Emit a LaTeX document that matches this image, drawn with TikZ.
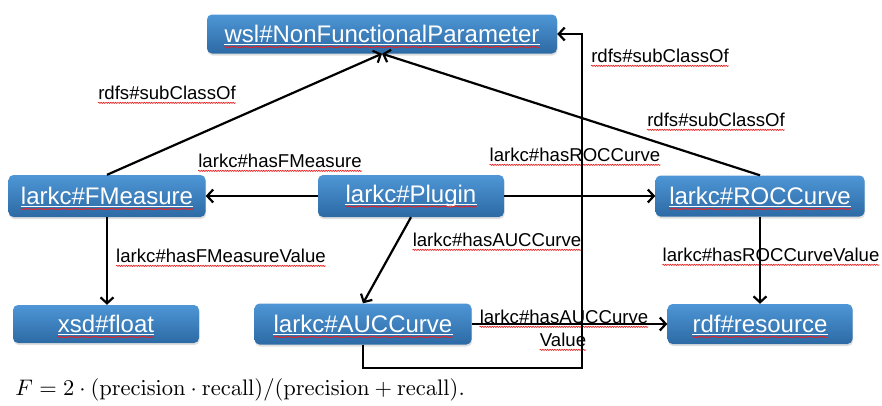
\documentclass[tikz,border=0pt]{standalone}
\usepackage[no-math]{fontspec}
\newfontfamily\arialike{Liberation Sans}
\usetikzlibrary{arrows.meta,shadows,decorations.pathmorphing}
\definecolor{boxtop}{RGB}{78,150,214}
\definecolor{boxbot}{RGB}{44,106,164}
\definecolor{spellred}{RGB}{232,32,32}
\begin{document}
\begin{tikzpicture}[x=1pt,y=-1pt,
  box/.style={rounded corners=5pt, top color=boxtop, bottom color=boxbot, draw=none,
    inner sep=0pt, drop shadow={shadow xshift=0.6pt,shadow yshift=-2pt,opacity=0.25}},
  boxtext/.style={inner sep=0pt, text=white, font=\arialike\fontsize{24}{28}\selectfont},
  lbl/.style={inner sep=0pt, text=black, font=\arialike\fontsize{18.6}{23}\selectfont},
  spell/.style={draw=spellred, line width=0.7pt, decorate,
    decoration={snake, amplitude=0.55pt, segment length=2.4pt}},
  link/.style={draw=black, line width=2.2pt, -{Straight Barb[length=6pt,width=13pt]}}
]
\useasboundingbox (0,0) rectangle (882,405);

% class boxes
\node[box, minimum width=350pt, minimum height=39pt] (nfp) at (382,34) {};
\node[box, minimum width=197pt, minimum height=42pt] (fm)  at (107,196) {};
\node[box, minimum width=186pt, minimum height=42pt] (plug) at (411,196) {};
\node[box, minimum width=209pt, minimum height=41pt] (roc) at (760,196) {};
\node[box, minimum width=186pt, minimum height=38pt] (flt) at (106,324) {};
\node[box, minimum width=217pt, minimum height=41pt] (auc) at (363,324) {};
\node[box, minimum width=185pt, minimum height=40pt] (res) at (760,324) {};

% box captions
\node[boxtext] (nfpT)  at (nfp)  {wsl\#NonFunctionalParameter};
\node[boxtext] (fmT)   at (fm)   {larkc\#FMeasure};
\node[boxtext] (plugT) at (plug) {larkc\#Plugin};
\node[boxtext] (rocT)  at (roc)  {larkc\#ROCCurve};
\node[boxtext] (fltT)  at (flt)  {xsd\#float};
\node[boxtext] (aucT)  at (auc)  {larkc\#AUCCurve};
\node[boxtext] (resT)  at (res)  {rdf\#resource};

% property labels
\node[lbl] (l1)  at (167,93)  {rdfs\#subClassOf};
\node[lbl] (l2)  at (660,56)  {rdfs\#subClassOf};
\node[lbl] (l3)  at (716,120) {rdfs\#subClassOf};
\node[lbl] (l4)  at (280,161) {larkc\#hasFMeasure};
\node[lbl] (l5)  at (575,155) {larkc\#hasROCCurve};
\node[lbl] (l6)  at (497,240) {larkc\#hasAUCCurve};
\node[lbl] (l7)  at (221,256) {larkc\#hasFMeasureValue};
\node[lbl] (l8)  at (771,255) {larkc\#hasROCCurveValue};
\node[lbl] (l9a) at (564,317) {larkc\#hasAUCCurve};
\node[lbl] (l9b) at (563,340) {Value};

% link underlines and spell-check squiggles
\foreach \n in {nfpT,fmT,plugT,rocT,fltT,aucT,resT}{
  \draw[white, line width=0.9pt] ([yshift=-2.2pt]\n.base west) -- ([yshift=-2.2pt]\n.base east);
  \draw[spell] ([yshift=-4.4pt]\n.base west) -- ([yshift=-4.4pt]\n.base east);
}
\foreach \n in {l1,l2,l3,l4,l5,l6,l7,l8,l9a,l9b}{
  \draw[spell] ([yshift=-3.2pt]\n.base west) -- ([yshift=-3.2pt]\n.base east);
}

% connectors
\coordinate (turn) at (582,368);
\draw[link] (fm.north) -- (nfp.south);
\draw[link] (roc.north) -- (nfp.south);
\draw[link] (plug) -- (fm);
\draw[link] (plug) -- (roc);
\draw[link] (plug.south) -- (auc.north);
\draw[link] (fm.south) -- (fm.south |- flt.north);
\draw[link] (roc.south) -- (res.north);
\draw[link] (auc) -- (res);
\draw[link] (auc.south) -- (auc.south |- turn) -- (turn) -- (turn |- nfp.east) -- (nfp.east);

% formula
\node[anchor=west, inner sep=0pt, scale=2.25, transform shape] (fmla) at (15,390)
  {$F = 2\cdot(\mathrm{precision}\cdot\mathrm{recall})/(\mathrm{precision}+\mathrm{recall}).$};
\end{tikzpicture}
\end{document}
